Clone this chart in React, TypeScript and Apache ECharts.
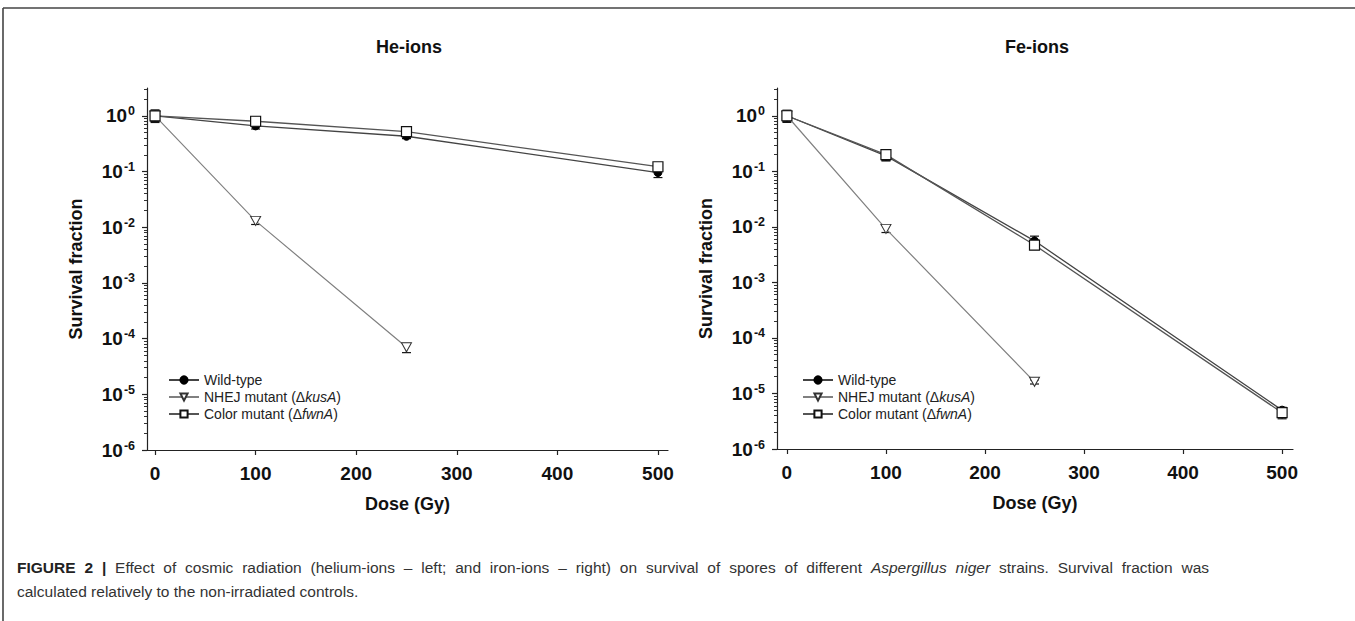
import React, { useEffect, useRef } from "react";
import * as echarts from "echarts";

// ---------- data ----------
const doses = [0, 100, 250, 500];
const dosesNhej = [0, 100, 250];
const doseTicks = [0, 100, 200, 300, 400, 500];
const yMajorTicks = [1e-6, 1e-5, 1e-4, 1e-3, 1e-2, 1e-1, 1];

// He-ions (left)
const heWild = [1.0, 0.66, 0.43, 0.096];
const heWildLow = [0.8, 0.58, 0.39, 0.078];
const heWildHigh = [1.22, 0.74, 0.47, 0.11];
const heNhej = [1.0, 0.013, 7.0e-5];
const heNhejLow = [0.8, 0.0112, 5.6e-5];
const heNhejHigh = [1.2, 0.0148, 8.2e-5];
const heColor = [1.0, 0.8, 0.52, 0.122];
const heColorLow = [0.76, 0.66, 0.47, 0.108];
const heColorHigh = [1.28, 0.96, 0.57, 0.135];

// Fe-ions (right)
const feWild = [1.0, 0.19, 5.6e-3, 5.0e-6];
const feWildLow = [0.8, 0.155, 4.6e-3, 4.4e-6];
const feWildHigh = [1.22, 0.225, 6.8e-3, 5.6e-6];
const feNhej = [1.0, 0.0092, 1.62e-5];
const feNhejLow = [0.8, 0.0079, 1.48e-5];
const feNhejHigh = [1.2, 0.0106, 1.76e-5];
const feColor = [1.0, 0.2, 4.7e-3, 4.5e-6];
const feColorLow = [0.76, 0.155, 3.9e-3, 3.5e-6];
const feColorHigh = [1.26, 0.24, 5.4e-3, 5.6e-6];

const seriesNames = ["Wild-type", "NHEJ mutant (ΔkusA)", "Color mutant (ΔfwnA)"];
const panelTitles = ["He-ions", "Fe-ions"];
// caption line 1 (justified): [word, style]
const captionLine1: [string, string][] = [
  ["FIGURE", "b"], ["2", "b"], ["|", "b"],
  ["Effect", "r"], ["of", "r"], ["cosmic", "r"], ["radiation", "r"], ["(helium-ions", "r"], ["–", "r"],
  ["left;", "r"], ["and", "r"], ["iron-ions", "r"], ["–", "r"], ["right)", "r"], ["on", "r"], ["survival", "r"],
  ["of", "r"], ["spores", "r"], ["of", "r"], ["different", "r"], ["Aspergillus", "i"], ["niger", "i"],
  ["strains.", "r"], ["Survival", "r"], ["fraction", "r"], ["was", "r"],
];
const captionLine2 = "calculated relatively to the non-irradiated controls.";

// minor tick positions (2..9 within each decade)
const yMinorTicks: number[] = [];
for (let e = -6; e <= 0; e++) {
  for (let k = 2; k <= 9; k++) {
    const v = k * Math.pow(10, e);
    if (v <= 3.1623) yMinorTicks.push(v);
  }
}

const FONT = "Liberation Sans, Arial, Helvetica, sans-serif";
const CAP_SIZE = 15.5;

function zip(xs: number[], ys: number[]) {
  return xs.map((x, i) => [x, ys[i]]);
}
function zipErr(xs: number[], lo: number[], hi: number[]) {
  return xs.map((x, i) => [x, lo[i], hi[i]]);
}

const errRender = (params: any, api: any) => {
  const x = api.value(0);
  const lo = api.value(1);
  const hi = api.value(2);
  const p1 = api.coord([x, lo]);
  const p2 = api.coord([x, hi]);
  const w = 4.5;
  const st = { stroke: "#111", lineWidth: 1.2 };
  return {
    type: "group",
    children: [
      { type: "line", shape: { x1: p1[0], y1: p1[1], x2: p2[0], y2: p2[1] }, style: st },
      { type: "line", shape: { x1: p1[0] - w, y1: p1[1], x2: p1[0] + w, y2: p1[1] }, style: st },
      { type: "line", shape: { x1: p2[0] - w, y1: p2[1], x2: p2[0] + w, y2: p2[1] }, style: st },
    ],
  };
};

const seriesStyles = [
  {
    symbol: "circle",
    symbolSize: 8,
    symbolRotate: 0,
    itemStyle: { color: "#000", borderColor: "#000", borderWidth: 1 },
    lineStyle: { color: "#444", width: 1.3 },
  },
  {
    symbol: "triangle",
    symbolSize: [10, 9],
    symbolRotate: 180,
    itemStyle: { color: "#fff", borderColor: "#333", borderWidth: 1 },
    lineStyle: { color: "#808080", width: 1.2 },
  },
  {
    symbol: "rect",
    symbolSize: 10,
    symbolRotate: 0,
    itemStyle: { color: "#fff", borderColor: "#111", borderWidth: 1.2 },
    lineStyle: { color: "#555", width: 1.3 },
  },
];

function makeYAxes(gridIndex: number, withName: boolean) {
  return [
    {
      type: "log",
      logBase: 10,
      gridIndex,
      position: "left",
      min: 1e-6,
      max: 3.1623,
      axisLine: { show: true, onZero: false, lineStyle: { color: "#222", width: 1.2 } },
      axisTick: { show: true, length: 5, customValues: yMajorTicks, lineStyle: { color: "#222", width: 1.2 } },
      axisLabel: {
        customValues: yMajorTicks,
        margin: 12,
        formatter: (v: number) => {
          const e = Math.round(Math.log10(v));
          return `{a|10}{b|${e}}`;
        },
        rich: {
          a: { fontSize: 19, fontWeight: "bold", fontFamily: FONT, color: "#111", lineHeight: 22 },
          b: { fontSize: 12.5, fontWeight: "bold", fontFamily: FONT, color: "#111", verticalAlign: "top", lineHeight: 22, padding: [0, 0, 0, 1] },
        },
      },
      splitLine: { show: false },
      name: withName ? "Survival fraction" : "",
      nameLocation: "middle",
      nameGap: 62,
      nameTextStyle: { fontSize: 18, fontWeight: "bold", fontFamily: FONT, color: "#111" },
    },
    {
      type: "log",
      logBase: 10,
      gridIndex,
      position: "left",
      min: 1e-6,
      max: 3.1623,
      axisLine: { show: false, onZero: false },
      axisTick: { show: true, length: 3, customValues: yMinorTicks, lineStyle: { color: "#333", width: 1 } },
      axisLabel: { show: false },
      splitLine: { show: false },
    },
  ];
}

function makeXAxis(gridIndex: number, min: number, max: number) {
  return {
    type: "value",
    gridIndex,
    min,
    max,
    axisLine: { show: true, onZero: false, lineStyle: { color: "#222", width: 1.2 } },
    axisTick: { show: true, length: 5, customValues: doseTicks, lineStyle: { color: "#222", width: 1.2 } },
    axisLabel: {
      customValues: doseTicks,
      margin: 14,
      fontSize: 19,
      fontWeight: "bold",
      fontFamily: FONT,
      color: "#111",
    },
    splitLine: { show: false },
    name: "Dose (Gy)",
    nameLocation: "middle",
    nameGap: 45,
    nameTextStyle: { fontSize: 18, fontWeight: "bold", fontFamily: FONT, color: "#111" },
  };
}

function makeSeries(
  xAxisIndex: number,
  yAxisIndex: number,
  values: number[][],
  lows: number[][],
  highs: number[][]
) {
  const xsFor = (i: number) => (i === 1 ? dosesNhej : doses);
  const out: any[] = [];
  values.forEach((vals, i) => {
    out.push({
      type: "custom",
      name: seriesNames[i] + " err",
      xAxisIndex,
      yAxisIndex,
      renderItem: errRender,
      encode: { x: 0, y: [1, 2] },
      data: zipErr(xsFor(i), lows[i], highs[i]),
      z: 2,
      silent: true,
    });
  });
  values.forEach((vals, i) => {
    const s = seriesStyles[i];
    out.push({
      type: "line",
      name: seriesNames[i],
      xAxisIndex,
      yAxisIndex,
      data: zip(xsFor(i), vals),
      symbol: s.symbol,
      symbolSize: s.symbolSize,
      symbolRotate: s.symbolRotate,
      showSymbol: true,
      itemStyle: s.itemStyle,
      lineStyle: s.lineStyle,
      z: 3 + i,
      silent: true,
    });
  });
  return out;
}

function fontFor(style: string) {
  const w = style === "b" ? "bold " : "";
  const it = style === "i" ? "italic " : "";
  return `${it}${w}${CAP_SIZE}px ${FONT}`;
}

function justifiedCaption(x0: number, x1: number, y: number) {
  const canvas = document.createElement("canvas");
  const ctx = canvas.getContext("2d")!;
  const widths = captionLine1.map(([w, s]) => {
    ctx.font = fontFor(s);
    return ctx.measureText(w).width;
  });
  const total = widths.reduce((a, b) => a + b, 0);
  const gap = (x1 - x0 - total) / (captionLine1.length - 1);
  let x = x0;
  return captionLine1.map(([w, s], i) => {
    const el = {
      type: "text",
      x,
      y,
      style: {
        text: w,
        fontSize: CAP_SIZE,
        fontFamily: FONT,
        fontWeight: s === "b" ? "bold" : "normal",
        fontStyle: s === "i" ? "italic" : "normal",
        fill: s === "b" ? "#222" : "#333",
        verticalAlign: "middle",
      },
    };
    x += widths[i] + gap;
    return el;
  });
}

export default function App() {
  const ref = useRef<HTMLDivElement>(null);

  useEffect(() => {
    document.body.style.margin = "0";
    if (!ref.current) return;
    const chart = echarts.init(ref.current, null, { renderer: "svg" });

    const legendCommon = {
      orient: "vertical",
      itemWidth: 30,
      itemHeight: 9,
      itemGap: 3,
      data: seriesNames,
      textStyle: {
        fontSize: 14,
        fontFamily: FONT,
        color: "#222",
        rich: {
          i: { fontSize: 14, fontFamily: FONT, color: "#222", fontStyle: "italic" },
        },
      },
      formatter: (name: string) => {
        const m = name.match(/^(.*Δ)(\w+)(\))$/);
        if (m) return `${m[1]}{i|${m[2]}}${m[3]}`;
        return name;
      },
      selectedMode: false,
    };

    const option: any = {
      animation: false,
      backgroundColor: "#fff",
      grid: [
        { left: 147, top: 88, width: 521, height: 362, containLabel: false, outerBoundsMode: "none" },
        { left: 777, top: 88, width: 516, height: 361, containLabel: false, outerBoundsMode: "none" },
      ],
      xAxis: [makeXAxis(0, -8, 510), makeXAxis(1, -10, 511)],
      yAxis: [...makeYAxes(0, true), ...makeYAxes(1, true)],
      legend: [
        { ...legendCommon, left: 163, top: 368 },
        { ...legendCommon, left: 797, top: 368 },
      ],
      series: [
        ...makeSeries(0, 0, [heWild, heNhej, heColor], [heWildLow, heNhejLow, heColorLow], [heWildHigh, heNhejHigh, heColorHigh]),
        ...makeSeries(1, 2, [feWild, feNhej, feColor], [feWildLow, feNhejLow, feColorLow], [feWildHigh, feNhejHigh, feColorHigh]),
      ],
      graphic: [
        { type: "line", shape: { x1: 3, y1: 8, x2: 1355, y2: 8 }, style: { stroke: "#444", lineWidth: 1.6 } },
        { type: "line", shape: { x1: 3, y1: 8, x2: 3, y2: 621 }, style: { stroke: "#444", lineWidth: 1.6 } },
        {
          type: "text",
          x: 409,
          y: 47,
          style: { text: panelTitles[0], fontSize: 18, fontWeight: "bold", fontFamily: FONT, fill: "#111", align: "center", verticalAlign: "middle" },
        },
        {
          type: "text",
          x: 1037,
          y: 47,
          style: { text: panelTitles[1], fontSize: 18, fontWeight: "bold", fontFamily: FONT, fill: "#111", align: "center", verticalAlign: "middle" },
        },
        ...justifiedCaption(17, 1209, 567),
        {
          type: "text",
          x: 17,
          y: 591,
          style: { text: captionLine2, fontSize: CAP_SIZE, fontFamily: FONT, fill: "#333", verticalAlign: "middle" },
        },
      ],
    };

    chart.setOption(option);
    return () => chart.dispose();
  }, []);

  return (
    <div
      ref={ref}
      style={{ position: "absolute", left: 0, top: 0, width: 1355, height: 621 }}
    />
  );
}
